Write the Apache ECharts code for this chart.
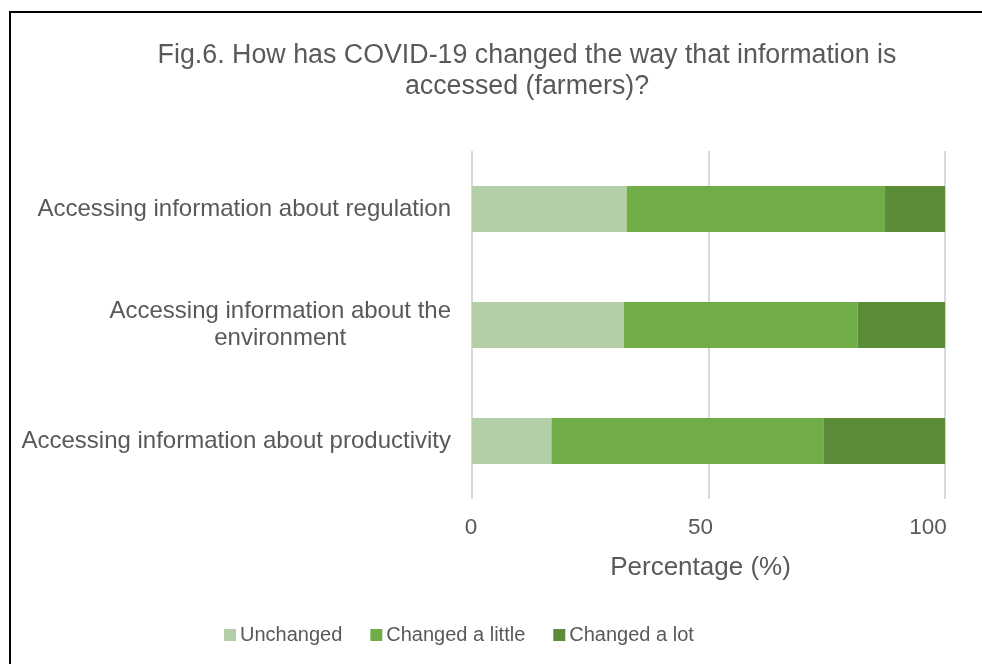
<!DOCTYPE html>
<html>
<head>
<meta charset="utf-8">
<script src="https://cdn.jsdelivr.net/npm/echarts@6/dist/echarts.min.js"></script>
<style>
  html, body { margin: 0; padding: 0; background: #fff; }
  #chart { width: 982px; height: 664px; }
</style>
</head>
<body>
<div id="chart"></div>
<script>
const categories = [
  'Accessing information about regulation',
  'Accessing information about the\nenvironment',
  'Accessing information about productivity'
]
const unchanged = [32.7, 32.1, 16.8]
const changedLittle = [54.6, 49.4, 57.6]
const changedLot = [12.7, 18.5, 25.6]
const seriesNames = ['Unchanged', 'Changed a little', 'Changed a lot']
const colors = ['#b4cfa7', '#70ad47', '#5b8c39']

const textColor = '#595959'
const font = '"Liberation Sans", Arial, sans-serif'

const chart = echarts.init(document.getElementById('chart'))

const makeSeries = (name, data, i) => ({
  name,
  type: 'bar',
  stack: 'total',
  barWidth: 46,
  data,
  itemStyle: { color: colors[i] }
})

// tick labels in the original sit a little left of their gridlines
const tickStyle = pad => ({
  color: textColor,
  fontSize: 22.5,
  fontFamily: font,
  padding: [0, pad, 0, 0]
})

chart.setOption({
  animation: false,
  textStyle: { fontFamily: font },
  title: {
    text: 'Fig.6. How has COVID-19 changed the way that information is\naccessed (farmers)?',
    left: 522,
    top: 35,
    textAlign: 'center',
    textStyle: {
      color: textColor,
      fontSize: 26.8,
      fontWeight: 'normal',
      lineHeight: 31,
      fontFamily: font
    }
  },
  graphic: [{
    type: 'rect',
    shape: { x: 10, y: 12, width: 1000, height: 700 },
    style: { fill: 'none', stroke: '#000', lineWidth: 2 },
    silent: true
  }],
  legend: {
    bottom: 14,
    left: 219,
    itemWidth: 12,
    itemHeight: 12,
    itemGap: 28,
    icon: 'rect',
    textStyle: { color: textColor, fontSize: 20, padding: [0, 0, 0, -1], fontFamily: font },
    data: seriesNames
  },
  grid: { left: 472, right: 37, top: 151, bottom: 165 },
  xAxis: {
    type: 'value',
    min: 0,
    max: 100,
    interval: 50,
    name: 'Percentage (%)',
    nameLocation: 'middle',
    nameGap: 56,
    nameTextStyle: { color: textColor, fontSize: 26, fontFamily: font, padding: [0, 16, 0, 0] },
    axisLine: { show: false },
    axisTick: { show: false },
    axisLabel: {
      margin: 17,
      formatter: v => (v === 0 ? '{a|0}' : v === 50 ? '{b|50}' : '{c|' + v + '}'),
      rich: {
        a: tickStyle(2),
        b: tickStyle(16),
        c: tickStyle(34)
      }
    },
    splitLine: { lineStyle: { color: '#d9d9d9', width: 2 } }
  },
  yAxis: {
    type: 'category',
    inverse: true,
    data: categories,
    axisLine: { show: false },
    axisTick: { show: false },
    axisLabel: {
      margin: 21,
      formatter: v => '{c|' + v + '}',
      rich: {
        c: {
          color: textColor,
          fontSize: 24,
          lineHeight: 27,
          align: 'center',
          fontFamily: font
        }
      }
    }
  },
  series: [
    makeSeries(seriesNames[0], unchanged, 0),
    makeSeries(seriesNames[1], changedLittle, 1),
    makeSeries(seriesNames[2], changedLot, 2)
  ]
})

window.addEventListener('resize', () => chart.resize())
</script>
</body>
</html>
